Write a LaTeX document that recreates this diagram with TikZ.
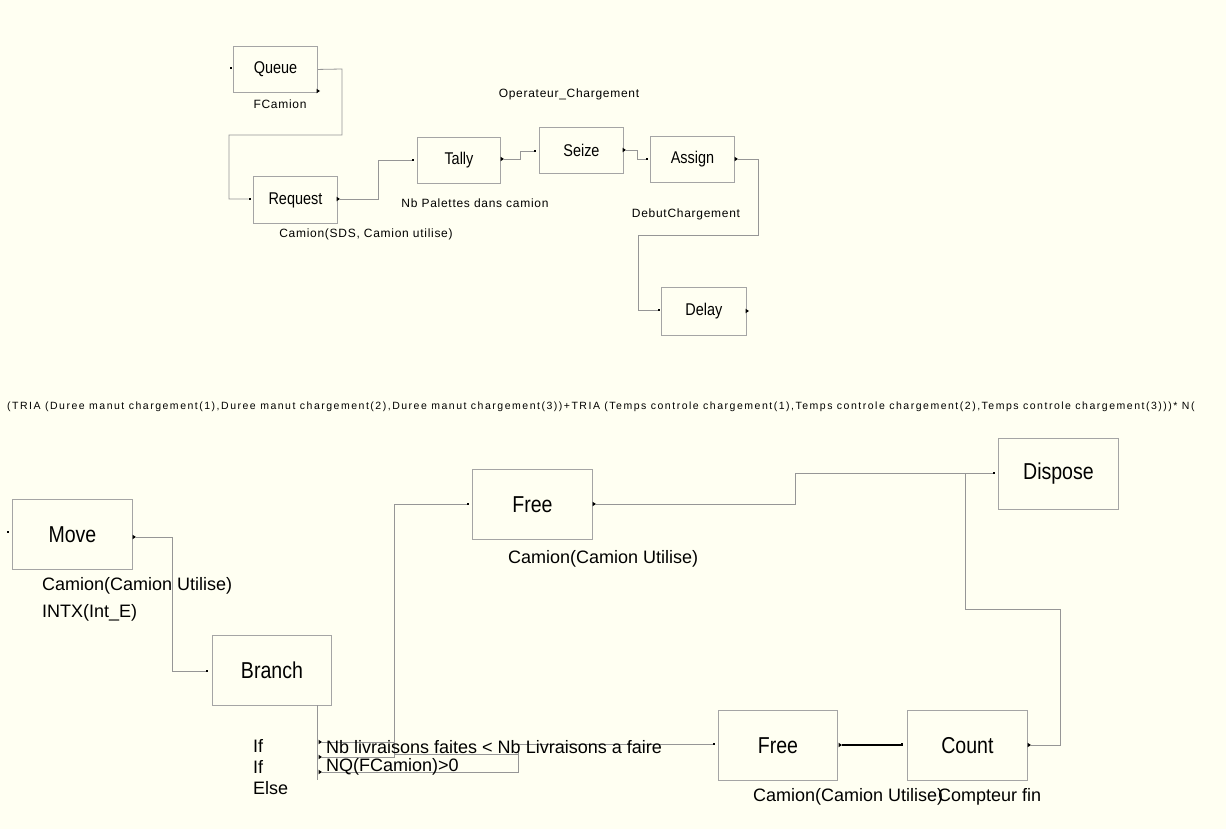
\documentclass[tikz,border=0pt]{standalone}
\usepackage{fontspec}
\setmainfont{Liberation Sans}
\newfontfamily\boxfont[FakeStretch=0.85]{Liberation Sans}
\newfontfamily\labfont[LetterSpace=6]{Liberation Sans}
\newfontfamily\longfont[LetterSpace=14.4]{Liberation Sans}
\definecolor{bgc}{RGB}{255,255,242}
\definecolor{boxc}{RGB}{165,165,165}
\definecolor{linec}{RGB}{150,150,150}
\newcommand\exitmark[1]{\fill[black] (#1) -- ++(-3.5,-2.3) -- ++(0,4.6) -- cycle;}
\begin{document}
\begin{tikzpicture}[x=1pt,y=-1pt,
  blk/.style={draw=boxc, line width=0.9pt, inner sep=0pt, anchor=north west},
  sblk/.style={blk, font=\boxfont\fontsize{17}{18}\selectfont},
  lblk/.style={blk, font=\boxfont\fontsize{23}{26}\selectfont},
  conn/.style={draw=linec, line width=0.8pt},
  entry/.style={fill=black, inner sep=0pt, minimum size=2.2pt, rectangle},
  lab/.style={font=\labfont\fontsize{12}{14}\selectfont, inner sep=0pt},
  mlab/.style={font=\fontsize{18}{21}\selectfont, inner sep=0pt, anchor=west},
]
\fill[bgc] (0,0) rectangle (1226,829);
\useasboundingbox (0,0) rectangle (1226,829);
\clip (0,0) rectangle (1226,829);

% ---------- upper model ----------
\node[sblk, minimum width=84pt, minimum height=46pt] (queue) at (233,46) {Queue};
\node[sblk, minimum width=84pt, minimum height=47pt] (request) at (253,176) {Request};
\node[sblk, minimum width=83pt, minimum height=46pt] (tally) at (417,137) {Tally};
\node[sblk, minimum width=84pt, minimum height=46pt] (seize) at (539,127) {Seize};
\node[sblk, minimum width=84pt, minimum height=46pt] (assign) at (650,136) {Assign};
\node[sblk, minimum width=85pt, minimum height=48pt] (delay) at (661,287) {Delay};

\node[entry] (qin) at (231,68) {};
\coordinate (qout) at (320,91);
\node[entry] (rqin) at (250,199) {};
\coordinate (rqout) at (340,199);
\node[entry] (tin) at (413,160) {};
\coordinate (tout) at (504,159);
\node[entry] (sin) at (535,151) {};
\coordinate (seout) at (626,150);
\node[entry] (ain) at (647,159) {};
\coordinate (aout) at (738,159);
\node[entry] (din) at (659,310) {};
\coordinate (dout) at (749,311);

\draw[conn] (queue.east) -- (342,69) -- (342,135) -- (229,135) |- (rqin);
\draw[conn] (rqout) -- (378,199) |- (tin);
\draw[conn] (tout) -- (520,159) -- (520,151) -- (sin);
\draw[conn] (seout) -- (637,150) -- (637,159) -- (ain);
\draw[conn] (aout) -- (758,159) -- (758,235) -- (638,235) |- (din);

\foreach \c in {qout,rqout,tout,seout,aout,dout} {\exitmark{\c}}

\node[lab] (lfc) at (280,104) {FCamion};
\node[lab] (lop) at (569,94) {Operateur\_Chargement};
\node[lab] (lnb) at (475,203) {Nb Palettes dans camion};
\node[lab] (lsds) at (366,234) {Camion(SDS, Camion utilise)};
\node[lab] (ldeb) at (686,214) {DebutChargement};

\node[font=\longfont\fontsize{10.5}{12}\selectfont, inner sep=0pt, anchor=west] (ltria) at (7,407)
  {(TRIA (Duree manut chargement(1),Duree manut chargement(2),Duree manut chargement(3))+TRIA (Temps controle chargement(1),Temps controle chargement(2),Temps controle chargement(3)))* N(};

% ---------- lower model ----------
\node[lblk, minimum width=120pt, minimum height=70pt] (move) at (12,499) {Move};
\node[lblk, minimum width=119pt, minimum height=70pt] (branch) at (212,635) {Branch};
\node[lblk, minimum width=120pt, minimum height=70pt] (free1) at (472,469) {Free};
\node[lblk, minimum width=120pt, minimum height=71pt] (dispose) at (998,438) {Dispose};
\node[lblk, minimum width=119pt, minimum height=70pt] (free2) at (718,710) {Free};
\node[lblk, minimum width=120pt, minimum height=70pt] (count) at (907,710) {Count};

\node[entry] (min) at (8,532) {};
\coordinate (mout) at (136,537);
\node[entry] (bin) at (207,671) {};
\coordinate (bo1) at (322,742);
\coordinate (bo2) at (322,757);
\coordinate (bo3) at (322,772);
\node[entry] (f1in) at (468,504) {};
\coordinate (f1out) at (596,504);
\node[entry] (dpin) at (994,473) {};
\node[entry] (f2in) at (714,744) {};
\coordinate (f2out) at (842,745);
\node[entry] (cin) at (902,744) {};
\coordinate (cout) at (1031,745);

\draw[conn] (317,705) -- (317,780);
\draw[conn] (mout) -- (172,537) |- (bin);
\draw[conn] (bo1) -- (394,742);
\draw[conn] (bo2) -- (394,757) |- (f1in);
\draw[conn] (394,754) -- (518,754);
\draw[conn] (bo3) -- (518,772) -- (518,744) -- (f2in);
\draw[conn] (f1out) -- (795,504) |- (dpin);
\draw[black, line width=1.3pt] (f2out) -- (f2out -| cin) -- (cin);
\draw[conn] (cout) -- (1060,745) -- (1060,609) -- (965,609) |- (dpin);

\foreach \c in {mout,bo1,bo2,bo3,f1out,f2out,cout} {\exitmark{\c}}

\node[mlab] (lmv1) at (42,586) {Camion(Camion Utilise)};
\node[mlab] (lmv2) at (42,613) {INTX(Int\_E)};
\node[mlab] (lif1) at (253,746) {If};
\node[mlab] (lif2) at (253,767) {If};
\node[mlab] (lelse) at (253,788) {Else};
\node[mlab] (lc1) at (326,747) {Nb livraisons faites < Nb Livraisons a faire};
\node[mlab] (lc2) at (326,767) {NQ(FCamion)>0};
\node[mlab] (lf1) at (508,559) {Camion(Camion Utilise)};
\node[mlab] (lf2) at (753,797) {Camion(Camion Utilise)};
\node[mlab] (lcnt) at (938,797) {Compteur fin};
\end{tikzpicture}
\end{document}
